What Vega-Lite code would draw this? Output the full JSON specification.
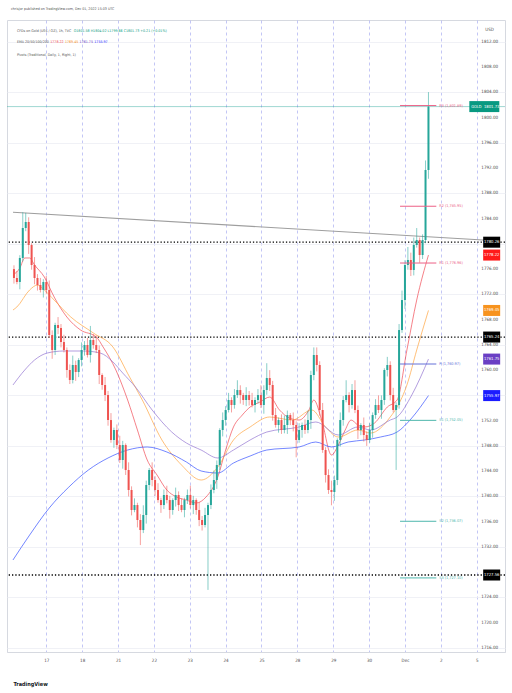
{
"$schema":"https://vega.github.io/schema/vega-lite/v6.json",
"width":498,"height":632,
"autosize":{"type":"none"},
"padding":{"left":7,"top":20,"right":7,"bottom":41},
"background":"#ffffff",
"title":{"text":"chrisjor published on TradingView.com, Dec 01, 2022 15:03 UTC","anchor":"start","frame":"group","fontSize":3.6,"fontWeight":"normal","color":"#555555","offset":9,"dx":4},
"config":{"view":{"stroke":"#d6d9e0"},"font":"Liberation Sans Narrow, DejaVu Sans Condensed, Arial Narrow, sans-serif","text":{"font":"Liberation Sans Narrow, DejaVu Sans Condensed, Arial Narrow, sans-serif"}},
"resolve":{"scale":{"color":"independent","strokeWidth":"independent"}},
"datasets":{
"bars":[
{"b":0,"o":1776,"h":1776.6,"l":1773.7,"c":1774.59},
{"b":1,"o":1774.59,"h":1775.7,"l":1773.6,"c":1773.96},
{"b":2,"o":1773.96,"h":1778.2,"l":1772.8,"c":1777.76},
{"b":3,"o":1777.76,"h":1785,"l":1777.2,"c":1782.51},
{"b":4,"o":1782.51,"h":1784.9,"l":1782,"c":1783.46},
{"b":5,"o":1783.46,"h":1784.2,"l":1778.4,"c":1779.81},
{"b":6,"o":1779.81,"h":1780.1,"l":1775.9,"c":1776.65},
{"b":7,"o":1776.65,"h":1777.9,"l":1773.6,"c":1774.59},
{"b":8,"o":1774.59,"h":1775.2,"l":1772.6,"c":1773.48},
{"b":9,"o":1773.48,"h":1774.6,"l":1772.3,"c":1772.69},
{"b":10,"o":1772.69,"h":1774.4,"l":1771.5,"c":1773.96},
{"b":11,"o":1773.96,"h":1774.9,"l":1772.1,"c":1772.69},
{"b":12,"o":1772.69,"h":1774.2,"l":1765.1,"c":1765.56},
{"b":13,"o":1765.56,"h":1766.3,"l":1761.8,"c":1763.19},
{"b":14,"o":1763.19,"h":1767.5,"l":1762.4,"c":1767.15},
{"b":15,"o":1767.15,"h":1768.4,"l":1765.7,"c":1766.67},
{"b":16,"o":1766.67,"h":1767.3,"l":1763.6,"c":1764.45},
{"b":17,"o":1764.45,"h":1765.6,"l":1762.8,"c":1763.19},
{"b":18,"o":1763.19,"h":1763.6,"l":1758.8,"c":1760.02},
{"b":19,"o":1760.02,"h":1760.9,"l":1757.8,"c":1758.44},
{"b":20,"o":1758.44,"h":1762.3,"l":1757.9,"c":1760.81},
{"b":21,"o":1760.81,"h":1761.5,"l":1758.3,"c":1759.7},
{"b":22,"o":1759.7,"h":1761.9,"l":1758.9,"c":1761.6},
{"b":23,"o":1761.6,"h":1764.4,"l":1760.6,"c":1763.19},
{"b":24,"o":1763.19,"h":1764.6,"l":1762.3,"c":1763.98},
{"b":25,"o":1763.98,"h":1765.1,"l":1762,"c":1762.4},
{"b":26,"o":1762.4,"h":1767,"l":1761.2,"c":1764.77},
{"b":27,"o":1764.77,"h":1765.7,"l":1763.4,"c":1763.98},
{"b":28,"o":1763.98,"h":1765.5,"l":1762.7,"c":1763.19},
{"b":29,"o":1763.19,"h":1763.9,"l":1757.8,"c":1759.23},
{"b":30,"o":1759.23,"h":1759.5,"l":1756.9,"c":1757.65},
{"b":31,"o":1757.65,"h":1758.9,"l":1755.1,"c":1756.06},
{"b":32,"o":1756.06,"h":1756.7,"l":1751.2,"c":1752.1},
{"b":33,"o":1752.1,"h":1753.2,"l":1748.5,"c":1748.94},
{"b":34,"o":1748.94,"h":1750.9,"l":1747.7,"c":1750.52},
{"b":35,"o":1750.52,"h":1751.4,"l":1747.5,"c":1748.14},
{"b":36,"o":1748.14,"h":1749.6,"l":1745.3,"c":1745.77},
{"b":37,"o":1745.77,"h":1748.8,"l":1744.4,"c":1748.14},
{"b":38,"o":1748.14,"h":1748.4,"l":1743.4,"c":1744.19},
{"b":39,"o":1744.19,"h":1745.4,"l":1740,"c":1741.02},
{"b":40,"o":1741.02,"h":1741.6,"l":1737,"c":1737.85},
{"b":41,"o":1737.85,"h":1739.7,"l":1737.5,"c":1738.64},
{"b":42,"o":1738.64,"h":1739,"l":1735.1,"c":1736.27},
{"b":43,"o":1736.27,"h":1737.2,"l":1732.3,"c":1734.68},
{"b":44,"o":1734.68,"h":1738.6,"l":1734.2,"c":1737.06},
{"b":45,"o":1737.06,"h":1742.5,"l":1735.7,"c":1741.81},
{"b":46,"o":1741.81,"h":1744.5,"l":1741,"c":1744.19},
{"b":47,"o":1744.19,"h":1745.4,"l":1741.6,"c":1742.6},
{"b":48,"o":1742.6,"h":1743.2,"l":1740.1,"c":1741.02},
{"b":49,"o":1741.02,"h":1742.1,"l":1739,"c":1739.43},
{"b":50,"o":1739.43,"h":1739.8,"l":1737.4,"c":1738.64},
{"b":51,"o":1738.64,"h":1741.1,"l":1738,"c":1740.23},
{"b":52,"o":1740.23,"h":1741.7,"l":1738.9,"c":1739.43},
{"b":53,"o":1739.43,"h":1740.1,"l":1736.5,"c":1737.85},
{"b":54,"o":1737.85,"h":1739.7,"l":1737.1,"c":1739.43},
{"b":55,"o":1739.43,"h":1741.4,"l":1738.4,"c":1740.23},
{"b":56,"o":1740.23,"h":1740.8,"l":1737.7,"c":1738.64},
{"b":57,"o":1738.64,"h":1739.7,"l":1737.5,"c":1737.85},
{"b":58,"o":1737.85,"h":1739.8,"l":1736.7,"c":1739.43},
{"b":59,"o":1739.43,"h":1741.1,"l":1738.8,"c":1740.23},
{"b":60,"o":1740.23,"h":1741.7,"l":1738.1,"c":1738.64},
{"b":61,"o":1738.64,"h":1740.1,"l":1737.2,"c":1739.43},
{"b":62,"o":1739.43,"h":1739.7,"l":1737.1,"c":1737.85},
{"b":63,"o":1737.85,"h":1739.1,"l":1735.3,"c":1736.27},
{"b":64,"o":1736.27,"h":1736.9,"l":1734.6,"c":1735.48},
{"b":65,"o":1735.48,"h":1738.2,"l":1735.1,"c":1737.06},
{"b":66,"o":1737.06,"h":1739,"l":1725.2,"c":1738.64},
{"b":67,"o":1738.64,"h":1741.9,"l":1738,"c":1741.02},
{"b":68,"o":1741.02,"h":1744.1,"l":1740.5,"c":1742.6},
{"b":69,"o":1742.6,"h":1745.7,"l":1741.2,"c":1744.98},
{"b":70,"o":1744.98,"h":1750.8,"l":1744.2,"c":1750.52},
{"b":71,"o":1750.52,"h":1753.3,"l":1749.5,"c":1752.1},
{"b":72,"o":1752.1,"h":1754.3,"l":1751.2,"c":1753.69},
{"b":73,"o":1753.69,"h":1756.4,"l":1753.3,"c":1755.27},
{"b":74,"o":1755.27,"h":1755.7,"l":1753.3,"c":1754.48},
{"b":75,"o":1754.48,"h":1757,"l":1753.9,"c":1756.06},
{"b":76,"o":1756.06,"h":1758.4,"l":1755.6,"c":1756.85},
{"b":77,"o":1756.85,"h":1757.6,"l":1754.7,"c":1756.06},
{"b":78,"o":1756.06,"h":1756.4,"l":1754.5,"c":1755.27},
{"b":79,"o":1755.27,"h":1757.3,"l":1754.3,"c":1756.06},
{"b":80,"o":1756.06,"h":1756.7,"l":1754.4,"c":1755.27},
{"b":81,"o":1755.27,"h":1756.4,"l":1754.1,"c":1754.48},
{"b":82,"o":1754.48,"h":1755.7,"l":1753.3,"c":1755.27},
{"b":83,"o":1755.27,"h":1757,"l":1754.7,"c":1756.06},
{"b":84,"o":1756.06,"h":1757.6,"l":1754,"c":1754.48},
{"b":85,"o":1754.48,"h":1757.6,"l":1753.1,"c":1756.85},
{"b":86,"o":1756.85,"h":1761.1,"l":1756.1,"c":1758.75},
{"b":87,"o":1758.75,"h":1760,"l":1756.7,"c":1757.65},
{"b":88,"o":1757.65,"h":1758.3,"l":1752,"c":1752.89},
{"b":89,"o":1752.89,"h":1754,"l":1750.9,"c":1751.31},
{"b":90,"o":1751.31,"h":1752.5,"l":1750.1,"c":1752.1},
{"b":91,"o":1752.1,"h":1753,"l":1749.9,"c":1750.52},
{"b":92,"o":1750.52,"h":1752.8,"l":1750,"c":1751.31},
{"b":93,"o":1751.31,"h":1753.6,"l":1749.9,"c":1752.89},
{"b":94,"o":1752.89,"h":1753.2,"l":1751.3,"c":1752.1},
{"b":95,"o":1752.1,"h":1753.3,"l":1750.3,"c":1751.31},
{"b":96,"o":1751.31,"h":1751.9,"l":1746.2,"c":1748.94},
{"b":97,"o":1748.94,"h":1751.6,"l":1748.5,"c":1750.52},
{"b":98,"o":1750.52,"h":1751.7,"l":1749.3,"c":1751.31},
{"b":99,"o":1751.31,"h":1752.2,"l":1749.9,"c":1750.52},
{"b":100,"o":1750.52,"h":1753.6,"l":1750,"c":1752.1},
{"b":101,"o":1752.1,"h":1759.9,"l":1750.7,"c":1759.23},
{"b":102,"o":1759.23,"h":1763.6,"l":1758.4,"c":1762.4},
{"b":103,"o":1762.4,"h":1763.6,"l":1759.8,"c":1760.81},
{"b":104,"o":1760.81,"h":1761.4,"l":1752.8,"c":1753.69},
{"b":105,"o":1753.69,"h":1754.8,"l":1746.9,"c":1747.35},
{"b":106,"o":1747.35,"h":1747.8,"l":1742.2,"c":1743.39},
{"b":107,"o":1743.39,"h":1744.3,"l":1740.4,"c":1741.02},
{"b":108,"o":1741.02,"h":1742.5,"l":1738.6,"c":1740.7},
{"b":109,"o":1740.7,"h":1743.3,"l":1739.3,"c":1742.6},
{"b":110,"o":1742.6,"h":1749.2,"l":1741.8,"c":1748.94},
{"b":111,"o":1748.94,"h":1753.3,"l":1747.9,"c":1752.1},
{"b":112,"o":1752.1,"h":1755.9,"l":1751.2,"c":1755.27},
{"b":113,"o":1755.27,"h":1758.4,"l":1754.9,"c":1756.06},
{"b":114,"o":1756.06,"h":1756.5,"l":1753.3,"c":1754.48},
{"b":115,"o":1754.48,"h":1757.8,"l":1753.9,"c":1756.85},
{"b":116,"o":1756.85,"h":1758.4,"l":1753.2,"c":1753.69},
{"b":117,"o":1753.69,"h":1754.4,"l":1749.1,"c":1750.52},
{"b":118,"o":1750.52,"h":1751.6,"l":1749.7,"c":1751.31},
{"b":119,"o":1751.31,"h":1752.5,"l":1748.7,"c":1749.73},
{"b":120,"o":1749.73,"h":1750.3,"l":1748,"c":1748.94},
{"b":121,"o":1748.94,"h":1751.6,"l":1748.5,"c":1750.52},
{"b":122,"o":1750.52,"h":1753.3,"l":1749.3,"c":1752.89},
{"b":123,"o":1752.89,"h":1755.4,"l":1752.3,"c":1754.48},
{"b":124,"o":1754.48,"h":1756,"l":1753.2,"c":1753.69},
{"b":125,"o":1753.69,"h":1756,"l":1752.3,"c":1755.27},
{"b":126,"o":1755.27,"h":1760.3,"l":1754.5,"c":1760.02},
{"b":127,"o":1760.02,"h":1762.1,"l":1759,"c":1760.81},
{"b":128,"o":1760.81,"h":1761.4,"l":1755.2,"c":1756.06},
{"b":129,"o":1756.06,"h":1757.2,"l":1753.3,"c":1753.69},
{"b":130,"o":1753.69,"h":1754.9,"l":1744.2,"c":1754.48},
{"b":131,"o":1754.48,"h":1767.3,"l":1753.9,"c":1766.35},
{"b":132,"o":1766.35,"h":1772.6,"l":1765.9,"c":1771.1},
{"b":133,"o":1771.1,"h":1777.4,"l":1769.7,"c":1776.65},
{"b":134,"o":1776.65,"h":1779.5,"l":1775.9,"c":1777.44},
{"b":135,"o":1777.44,"h":1778.6,"l":1774.9,"c":1775.86},
{"b":136,"o":1775.86,"h":1781,"l":1775,"c":1779.81},
{"b":137,"o":1779.81,"h":1782.5,"l":1779.4,"c":1780.61},
{"b":138,"o":1780.61,"h":1781,"l":1777,"c":1778.23},
{"b":139,"o":1778.23,"h":1781.5,"l":1777.6,"c":1780.61},
{"b":140,"o":1780.61,"h":1793.2,"l":1780.1,"c":1791.69},
{"b":141,"o":1791.69,"h":1804.02,"l":1790.3,"c":1801.73}
],
"ema":[
{"s":"EMA20","b":-0.33,"v":1775.06},{"s":"EMA20","b":2,"v":1776.17},{"s":"EMA20","b":3.67,"v":1777.76},{"s":"EMA20","b":5.33,"v":1777.76},{"s":"EMA20","b":7,"v":1776.65},{"s":"EMA20","b":10.33,"v":1774.75},{"s":"EMA20","b":13.67,"v":1771.58},{"s":"EMA20","b":18,"v":1768.41},{"s":"EMA20","b":22.67,"v":1766.35},{"s":"EMA20","b":28,"v":1765.25},{"s":"EMA20","b":30.33,"v":1763.66},{"s":"EMA20","b":34.67,"v":1760.02},{"s":"EMA20","b":38.67,"v":1755.27},{"s":"EMA20","b":42,"v":1750.52},{"s":"EMA20","b":45.33,"v":1745.77},{"s":"EMA20","b":48.67,"v":1743.39},{"s":"EMA20","b":52,"v":1741.02},{"s":"EMA20","b":55.33,"v":1739.91},{"s":"EMA20","b":58.67,"v":1739.43},{"s":"EMA20","b":62,"v":1738.96},{"s":"EMA20","b":65.33,"v":1739.91},{"s":"EMA20","b":69.33,"v":1743.08},{"s":"EMA20","b":72,"v":1747.35},{"s":"EMA20","b":74.67,"v":1751},{"s":"EMA20","b":77.67,"v":1752.89},{"s":"EMA20","b":80.33,"v":1754.16},{"s":"EMA20","b":83.67,"v":1754.95},{"s":"EMA20","b":87,"v":1755.74},{"s":"EMA20","b":90.33,"v":1753.69},{"s":"EMA20","b":93.67,"v":1752.42},{"s":"EMA20","b":97,"v":1752.1},{"s":"EMA20","b":100.33,"v":1753.69},{"s":"EMA20","b":102,"v":1755.27},{"s":"EMA20","b":104.67,"v":1752.1},{"s":"EMA20","b":108,"v":1746.56},{"s":"EMA20","b":110.33,"v":1748.14},{"s":"EMA20","b":112.67,"v":1750.52},{"s":"EMA20","b":114.67,"v":1752.1},{"s":"EMA20","b":117,"v":1751.31},{"s":"EMA20","b":119.33,"v":1751},{"s":"EMA20","b":122.67,"v":1751.63},{"s":"EMA20","b":127,"v":1754.16},{"s":"EMA20","b":130.33,"v":1755.27},{"s":"EMA20","b":133.67,"v":1763.19},{"s":"EMA20","b":137,"v":1771.1},{"s":"EMA20","b":141,"v":1778.22},
{"s":"EMA50","b":-0.33,"v":1769.52},{"s":"EMA50","b":1,"v":1770},{"s":"EMA50","b":5.33,"v":1772.69},{"s":"EMA50","b":8,"v":1773.48},{"s":"EMA50","b":10.33,"v":1772.69},{"s":"EMA50","b":13.67,"v":1771.1},{"s":"EMA50","b":19.33,"v":1768.41},{"s":"EMA50","b":27,"v":1765.88},{"s":"EMA50","b":33.67,"v":1763.66},{"s":"EMA50","b":39.33,"v":1758.91},{"s":"EMA50","b":43.67,"v":1755.27},{"s":"EMA50","b":50.33,"v":1748.94},{"s":"EMA50","b":57,"v":1744.98},{"s":"EMA50","b":63.67,"v":1742.6},{"s":"EMA50","b":69.33,"v":1744.66},{"s":"EMA50","b":74.67,"v":1748.94},{"s":"EMA50","b":80.33,"v":1751},{"s":"EMA50","b":87,"v":1752.58},{"s":"EMA50","b":94.67,"v":1752.1},{"s":"EMA50","b":101.33,"v":1753.69},{"s":"EMA50","b":106,"v":1751},{"s":"EMA50","b":110.33,"v":1749.41},{"s":"EMA50","b":117,"v":1750.52},{"s":"EMA50","b":121.33,"v":1750.04},{"s":"EMA50","b":128,"v":1752.58},{"s":"EMA50","b":130.33,"v":1754.16},{"s":"EMA50","b":133.67,"v":1757.65},{"s":"EMA50","b":137,"v":1763.19},{"s":"EMA50","b":141,"v":1769.45},
{"s":"EMA100","b":-0.33,"v":1757.65},{"s":"EMA100","b":3.67,"v":1760.02},{"s":"EMA100","b":7,"v":1761.6},{"s":"EMA100","b":11.33,"v":1762.71},{"s":"EMA100","b":17,"v":1763.03},{"s":"EMA100","b":23.67,"v":1763.03},{"s":"EMA100","b":29.33,"v":1762.71},{"s":"EMA100","b":33.67,"v":1761.29},{"s":"EMA100","b":37,"v":1759.54},{"s":"EMA100","b":41.33,"v":1757.33},{"s":"EMA100","b":47,"v":1753.69},{"s":"EMA100","b":53.67,"v":1750.2},{"s":"EMA100","b":58.67,"v":1748.46},{"s":"EMA100","b":63.67,"v":1747.35},{"s":"EMA100","b":69.33,"v":1746.09},{"s":"EMA100","b":74.67,"v":1747.35},{"s":"EMA100","b":80.33,"v":1748.94},{"s":"EMA100","b":86,"v":1750.2},{"s":"EMA100","b":97,"v":1751},{"s":"EMA100","b":102.67,"v":1751.79},{"s":"EMA100","b":110.33,"v":1749.73},{"s":"EMA100","b":117,"v":1751},{"s":"EMA100","b":121.33,"v":1750.52},{"s":"EMA100","b":128,"v":1752.1},{"s":"EMA100","b":130.33,"v":1752.58},{"s":"EMA100","b":135.33,"v":1756.06},{"s":"EMA100","b":141,"v":1761.75},
{"s":"EMA200","b":-0.33,"v":1729.94},{"s":"EMA200","b":5.33,"v":1733.89},{"s":"EMA200","b":12,"v":1738.17},{"s":"EMA200","b":18.67,"v":1741.49},{"s":"EMA200","b":25.33,"v":1744.19},{"s":"EMA200","b":32,"v":1746.09},{"s":"EMA200","b":38.67,"v":1747.35},{"s":"EMA200","b":45.33,"v":1747.83},{"s":"EMA200","b":52,"v":1747.04},{"s":"EMA200","b":58.67,"v":1745.45},{"s":"EMA200","b":63.67,"v":1744.03},{"s":"EMA200","b":69.33,"v":1743.71},{"s":"EMA200","b":74.67,"v":1745.29},{"s":"EMA200","b":80.33,"v":1746.4},{"s":"EMA200","b":86,"v":1747.35},{"s":"EMA200","b":97,"v":1747.83},{"s":"EMA200","b":102.67,"v":1748.62},{"s":"EMA200","b":108,"v":1747.83},{"s":"EMA200","b":113.67,"v":1748.62},{"s":"EMA200","b":119.33,"v":1748.94},{"s":"EMA200","b":124.67,"v":1749.41},{"s":"EMA200","b":130.33,"v":1750.2},{"s":"EMA200","b":135.33,"v":1752.42},{"s":"EMA200","b":141,"v":1755.97}
],
"trend":[{"b":-0.33,"v":1785.0},{"b":165.33,"v":1780.45}],
"levels":[{"v":1780.26},{"v":1765.24},{"v":1727.56}],
"yticks":[{"v":1716},{"v":1720},{"v":1724},{"v":1732},{"v":1736},{"v":1740},{"v":1744},{"v":1748},{"v":1752},{"v":1760},{"v":1764},{"v":1768},{"v":1772},{"v":1776},{"v":1784},{"v":1788},{"v":1792},{"v":1796},{"v":1800},{"v":1804},{"v":1808},{"v":1812}],
"pivots":[
{"k":"R","v":1801.89,"txt":"R3 (1,801.89)"},
{"k":"R","v":1785.95,"txt":"R2 (1,785.95)"},
{"k":"R","v":1776.96,"txt":"R1 (1,776.96)"},
{"k":"P","v":1760.97,"txt":"P (1,760.97)"},
{"k":"S","v":1752.05,"txt":"S1 (1,752.05)"},
{"k":"S","v":1736.07,"txt":"S2 (1,736.07)"},
{"k":"S","v":1727.1,"txt":"S3 (1,727.10)"}
],
"tags":[
{"k":"level","v":1780.26,"txt":"1780.26"},
{"k":"EMA20","v":1778.22,"txt":"1778.22"},
{"k":"EMA50","v":1769.45,"txt":"1769.45"},
{"k":"level","v":1765.24,"txt":"1765.24"},
{"k":"EMA100","v":1761.75,"txt":"1761.75"},
{"k":"EMA200","v":1755.97,"txt":"1755.97"},
{"k":"level","v":1727.56,"txt":"1727.56"},
{"k":"GOLD","v":1801.73,"txt":"1801.73"}
]
},
"layer":[
{"data":{"name":"trend"},"mark":{"type":"line","color":"#9e9e9e","strokeWidth":1.1,"clip":true},
 "encoding":{
  "x":{"field":"b","type":"quantitative","scale":{"domain":[-0.667,165.333],"nice":false,"zero":false},
   "axis":{"values":[11,23.2,35.4,47.6,59.8,72,84.2,96.4,108.6,120.8,133,145.2,157.4],
    "labelExpr":"['17','18','21','22','23','24','25','28','29','30','Dec','2','5'][round((datum.value-11)/12.2)]",
    "ticks":false,"domain":true,"domainColor":"#d6d9e0","labelPadding":5,"labelFontSize":4.5,"labelColor":"#4a4a4a","labelFlush":false,"labelOverlap":false,
    "grid":true,"gridDash":[3,3],"gridColor":"#b4b8f2","gridWidth":0.8,
    "title":"TradingView","titleAnchor":"start","titleAlign":"left","titleBaseline":"middle","titleX":6,"titleY":31,"titleFontSize":5.5,"titleFontWeight":"bold","titleColor":"#131722"}},
  "y":{"field":"v","type":"quantitative","scale":{"domain":[1715.37,1815.44],"nice":false,"zero":false},
   "axis":{"orient":"right","values":[1716,1720,1724,1728,1732,1736,1740,1744,1748,1752,1756,1760,1764,1768,1772,1776,1780,1784,1788,1792,1796,1800,1804,1808,1812],
    "title":null,"ticks":false,"domain":false,"labels":false,
    "grid":true,"gridColor":"#eceef4","gridWidth":0.8}}}},
{"data":{"values":[{"v":1801.73}]},"mark":{"type":"rule","color":"#26a69a","opacity":0.55,"strokeWidth":0.8},
 "encoding":{"y":{"field":"v","type":"quantitative"}}},
{"data":{"name":"levels"},"mark":{"type":"rule","color":"#000000","strokeWidth":1.3,"strokeDash":[1.3,2]},
 "encoding":{"y":{"field":"v","type":"quantitative"}}},
{"data":{"name":"ema"},"mark":{"type":"line","interpolate":"monotone","opacity":0.85},
 "encoding":{"x":{"field":"b","type":"quantitative"},"y":{"field":"v","type":"quantitative"},
  "color":{"field":"s","type":"nominal","scale":{"domain":["EMA20","EMA50","EMA100","EMA200"],"range":["#f0444f","#ffa23a","#8e6fd0","#2f4bff"]},"legend":null},
  "strokeWidth":{"field":"s","type":"nominal","scale":{"domain":["EMA20","EMA50","EMA100","EMA200"],"range":[0.8,0.8,0.8,1.3]},"legend":null}}},
{"data":{"name":"bars"},"mark":{"type":"rule","strokeWidth":1,"opacity":0.55},
 "encoding":{"x":{"field":"b","type":"quantitative"},"y":{"field":"l","type":"quantitative"},"y2":{"field":"h"},
  "color":{"condition":{"test":"datum.c >= datum.o","value":"#26a69a"},"value":"#ef5350"}}},
{"data":{"name":"bars"},"mark":{"type":"bar","width":2},
 "encoding":{"x":{"field":"b","type":"quantitative"},"y":{"field":"o","type":"quantitative"},"y2":{"field":"c"},
  "color":{"condition":{"test":"datum.c >= datum.o","value":"#26a69a"},"value":"#ef5350"}}},
{"data":{"name":"yticks"},"mark":{"type":"text","align":"right","fontSize":4.5,"color":"#4a4a4a"},
 "encoding":{"x":{"datum":164.67},"y":{"field":"v","type":"quantitative"},"text":{"field":"v","type":"quantitative","format":".2f"}}},
{"data":{"name":"pivots"},"mark":{"type":"rule","strokeWidth":1},
 "encoding":{"x":{"datum":131.33},"x2":{"datum":143.67},"y":{"field":"v","type":"quantitative"},
  "color":{"field":"k","type":"nominal","scale":{"domain":["R","P","S"],"range":["#ec5f86","#6470d8","#4db6ac"]},"legend":null}}},
{"data":{"name":"pivots"},"mark":{"type":"text","align":"left","fontSize":3.8},
 "encoding":{"x":{"datum":144.67},"y":{"field":"v","type":"quantitative"},"text":{"field":"txt"},
  "color":{"field":"k","type":"nominal","scale":{"domain":["R","P","S"],"range":["#ec5f86","#6470d8","#4db6ac"]},"legend":null}}},
{"data":{"name":"tags"},"transform":[{"filter":"datum.k != 'GOLD'"}],"mark":{"type":"tick","orient":"horizontal","size":17,"thickness":11,"opacity":1},
 "encoding":{"x":{"datum":162.5},"y":{"field":"v","type":"quantitative"},
  "color":{"field":"k","type":"nominal","scale":{"domain":["level","EMA20","EMA50","EMA100","EMA200","GOLD"],"range":["#000000","#ff1a1a","#f7931e","#6a3fc4","#1c1cff","#089981"]},"legend":null}}},
{"data":{"name":"tags"},"transform":[{"filter":"datum.k == 'GOLD'"}],"mark":{"type":"tick","orient":"horizontal","size":30,"thickness":11,"opacity":1,"color":"#089981"},
 "encoding":{"x":{"datum":160},"y":{"field":"v","type":"quantitative"}}},
{"data":{"name":"tags"},"transform":[{"filter":"datum.k == 'GOLD'"}],"mark":{"type":"text","text":"GOLD","fontSize":4,"color":"#ffffff"},
 "encoding":{"x":{"datum":157.3},"y":{"field":"v","type":"quantitative"}}},
{"data":{"name":"tags"},"mark":{"type":"text","fontSize":4.2,"color":"#ffffff"},
 "encoding":{"x":{"datum":162.5},"y":{"field":"v","type":"quantitative"},"text":{"field":"txt"}}},
{"data":{"values":[{}]},"mark":{"type":"text","text":"CFDs on Gold (US$ / OZ), 1h, TVC","align":"left","fontSize":3.6,"color":"#555555"},
 "encoding":{"x":{"datum":1},"y":{"datum":1813.75}}},
{"data":{"values":[{}]},"mark":{"type":"text","text":"O1801.58 H1804.02 L1799.66 C1801.73 +0.21 (+0.01%)","align":"left","fontSize":3.6,"color":"#089981"},
 "encoding":{"x":{"datum":20.33},"y":{"datum":1813.75}}},
{"data":{"values":[{}]},"mark":{"type":"text","text":"EMA 20/50/100/200","align":"left","fontSize":3.6,"color":"#555555"},
 "encoding":{"x":{"datum":1},"y":{"datum":1811.91}}},
{"data":{"values":[{}]},"mark":{"type":"text","text":"1778.22","align":"left","fontSize":3.6,"color":"#f0444f"},
 "encoding":{"x":{"datum":12.33},"y":{"datum":1811.91}}},
{"data":{"values":[{}]},"mark":{"type":"text","text":"1769.45","align":"left","fontSize":3.6,"color":"#f7931e"},
 "encoding":{"x":{"datum":17.33},"y":{"datum":1811.91}}},
{"data":{"values":[{}]},"mark":{"type":"text","text":"1761.75","align":"left","fontSize":3.6,"color":"#6a3fc4"},
 "encoding":{"x":{"datum":22.33},"y":{"datum":1811.91}}},
{"data":{"values":[{}]},"mark":{"type":"text","text":"1755.97","align":"left","fontSize":3.6,"color":"#1c1cff"},
 "encoding":{"x":{"datum":27.33},"y":{"datum":1811.91}}},
{"data":{"values":[{}]},"mark":{"type":"text","text":"Pivots (Traditional, Daily, 1, Right, 1)","align":"left","fontSize":3.6,"color":"#555555"},
 "encoding":{"x":{"datum":1},"y":{"datum":1809.9}}},
{"data":{"values":[{}]},"mark":{"type":"text","text":"USD","align":"left","fontSize":4.5,"color":"#4a4a4a"},
 "encoding":{"x":{"datum":160.33},"y":{"datum":1813.86}}}
]
}
